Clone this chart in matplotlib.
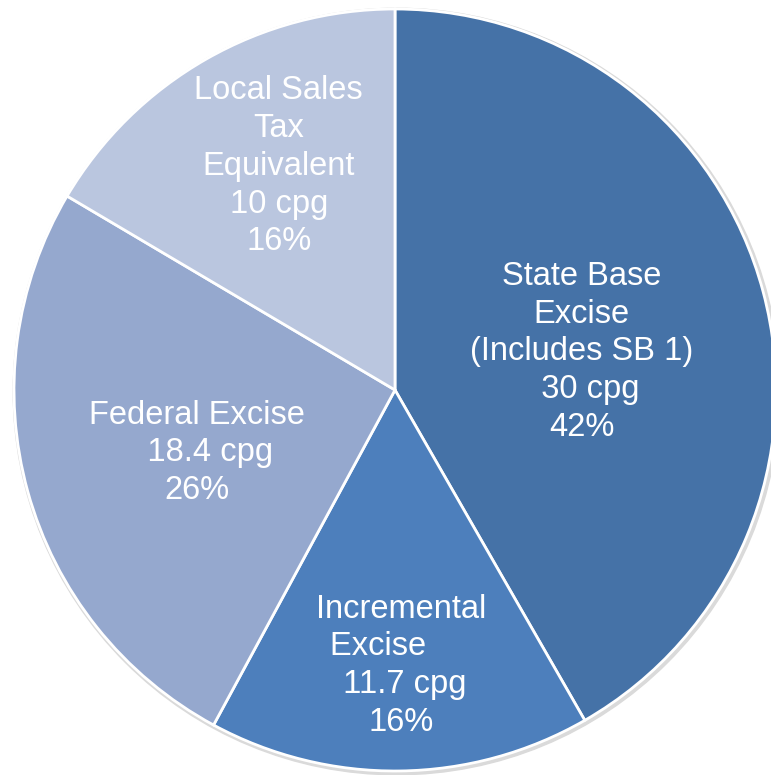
import matplotlib.pyplot as plt
from matplotlib.patches import Circle

plt.rcParams['font.family'] = ['Liberation Sans', 'DejaVu Sans']

# wedge shares (percent, measured off the wedge angles), clockwise from 12 o'clock
labels = ['State Base\nExcise\n(Includes SB 1)\n  30 cpg\n42%',
          'Incremental\nExcise     \n 11.7 cpg\n16%',
          'Federal Excise\n   18.4 cpg\n26%',
          'Local Sales\nTax\nEquivalent\n10 cpg\n16%']
shares = [41.7, 16.2, 25.6, 16.5]
colors = ['#4572A7', '#4D7FBC', '#95A8CE', '#BAC6DF']
# where each label block sits (units of radius)
label_xy = [(0.49, 0.10), (0.015, -0.724), (-0.52, -0.165), (-0.305, 0.587)]

fig = plt.figure(figsize=(7.71, 7.75), dpi=100)
ax = fig.add_axes([0, 0, 1, 1])

# soft shadow around the rim
ax.add_patch(Circle((0.004, -0.004), 1.006, color='#dadada', zorder=0))

wedges, _ = ax.pie(shares, colors=colors, startangle=90, counterclock=False,
                   radius=1.0, wedgeprops=dict(edgecolor='white', linewidth=2))

for txt, (x, y) in zip(labels, label_xy):
    ax.text(x, y, txt, ha='center', va='center', color='white', fontsize=23.5,
            linespacing=1.28, multialignment='center')

r_px = 381.0
cx, cy = 395.0, 390.0
ax.set_xlim(-cx / r_px, (771 - cx) / r_px)
ax.set_ylim(-(775 - cy) / r_px, cy / r_px)
ax.set_aspect('auto')
ax.axis('off')

fig.savefig('out.png', dpi=100)
